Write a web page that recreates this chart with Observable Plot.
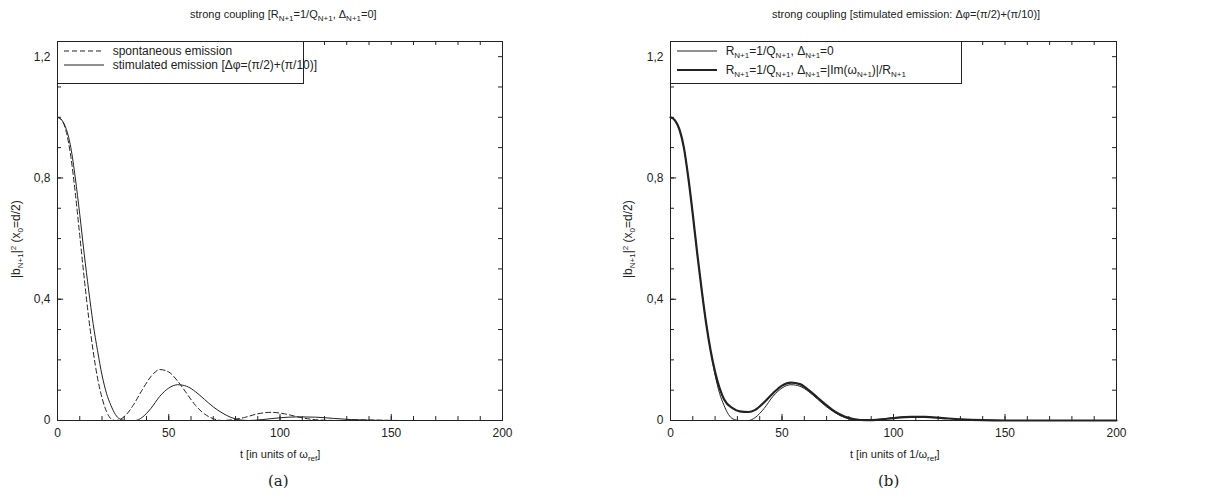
<!DOCTYPE html>
<html><head><meta charset="utf-8">
<script src="https://cdn.jsdelivr.net/npm/d3@7"></script>
<script src="https://cdn.jsdelivr.net/npm/@observablehq/plot@0.6"></script>
<style>
body{margin:0;background:#fff;font-family:"Liberation Sans",Arial,sans-serif;color:#222}
#wrap{position:relative;width:1224px;height:503px}
.abs{position:absolute;white-space:nowrap}
.title{font-size:11px;top:8px}
.xl{font-size:11px;top:448px}
.cap{font-family:"DejaVu Serif",serif;font-size:15px;top:472px}
.yl{font-size:12px;transform:rotate(-90deg);transform-origin:left top}
.leg{border:1px solid #222;background:#fff;font-size:12px;padding:2px 6px;line-height:14px}
sub{font-size:8px;vertical-align:-3px}sup{font-size:8px;vertical-align:4px}
svg text{font-family:"Liberation Sans",Arial,sans-serif}
</style></head><body><div id="wrap"></div>
<script>
const tA = [0,2,4,6,8,10,12,14,16,18,20,22,24,26,28,31,35,38,42,46,50,54,58,62,66,70,74,78,82,86,92,100,108,116,124,132,140,150,200];
const stim = [1,0.99,0.96,0.9,0.8,0.68,0.55,0.43,0.32,0.23,0.15,0.09,0.05,0.02,0.005,0,0,0.01,0.04,0.08,0.107,0.118,0.113,0.095,0.07,0.045,0.025,0.01,0.002,0,0.003,0.009,0.012,0.011,0.007,0.003,0.001,0,0];
const tS = [0,2,4,6,8,10,12,14,16,18,20,22,24,26,28,31,34,38,42,46,50,54,58,62,66,70,74,78,84,90,96,102,108,114,120,126,135,145,155,200];
const spont = [1,0.99,0.95,0.87,0.75,0.61,0.47,0.34,0.23,0.14,0.075,0.03,0.006,0,0.003,0.02,0.05,0.1,0.145,0.168,0.16,0.13,0.09,0.05,0.022,0.006,0,0.002,0.01,0.022,0.027,0.022,0.012,0.004,0.001,0,0.002,0.001,0,0];
const tB = [0,2,4,6,8,10,12,14,16,18,20,24,28,31,35,38,42,46,50,54,58,62,66,70,74,78,82,88,94,100,108,114,122,130,140,150,200];
const detuned = [1,0.99,0.96,0.9,0.8,0.68,0.55,0.43,0.32,0.23,0.16,0.07,0.04,0.03,0.028,0.035,0.06,0.09,0.115,0.125,0.12,0.1,0.075,0.05,0.028,0.013,0.005,0.001,0.003,0.008,0.012,0.012,0.008,0.004,0.001,0,0];
const xTicks=[0,50,100,150,200], yTicks=[0,0.4,0.8,1.2];
const xMinor=d3.range(0,201,10), yMinor=d3.range(0,1.25,0.1).map(v=>+v.toFixed(2));

function panel(lines, ml, mr){
  const k={stroke:"#222",strokeWidth:1};
  return Plot.plot({
    width:612,height:503,marginLeft:ml,marginRight:mr,marginTop:41,marginBottom:83,
    x:{domain:[0,200]}, y:{domain:[0,1.25]},
    style:{fontSize:"12px",color:"#222"},
    marks:[
      Plot.ruleX(xMinor,{x:d=>d,y1:0,y2:0.013,...k}),
      Plot.ruleX(xMinor,{x:d=>d,y1:1.25,y2:1.237,...k}),
      Plot.ruleX(xTicks,{x:d=>d,y1:0,y2:0.02,...k}),
      Plot.ruleY(yMinor,{y:d=>d,x1:0,x2:1.8,...k}),
      Plot.ruleY(yMinor,{y:d=>d,x1:200,x2:198.2,...k}),
      Plot.ruleY(yTicks,{y:d=>d,x1:0,x2:2.8,...k}),
      Plot.frame({stroke:"#222"}),
      Plot.axisX({ticks:xTicks,tickSize:0,tickPadding:8,anchor:"bottom",label:null,fontSize:12}),
      Plot.axisY({ticks:yTicks,tickSize:0,tickPadding:7,anchor:"left",label:null,tickFormat:d=>d===0?"0":d3.format(".1f")(d).replace(".",","),fontSize:12}),
      ...lines
    ]});
}
const wrap=document.getElementById("wrap");
const L=panel([
  Plot.line(tS.map((t,i)=>({t,v:spont[i]})),{x:"t",y:"v",stroke:"#222",strokeWidth:1,strokeDasharray:"5,3",curve:"monotone-x"}),
  Plot.line(tA.map((t,i)=>({t,v:stim[i]})),{x:"t",y:"v",stroke:"#222",strokeWidth:1,curve:"monotone-x"})
],57,110);
const R=panel([
  Plot.line(tA.map((t,i)=>({t,v:stim[i]})),{x:"t",y:"v",stroke:"#222",strokeWidth:1,curve:"monotone-x"}),
  Plot.line(tB.map((t,i)=>({t,v:detuned[i]})),{x:"t",y:"v",stroke:"#222",strokeWidth:2.2,curve:"monotone-x"})
],58,108);
L.style.position="absolute";L.style.left="0px";L.style.top="0px";
R.style.position="absolute";R.style.left="612px";R.style.top="0px";
wrap.append(L,R);
wrap.insertAdjacentHTML("beforeend",`
<div class="abs title" style="left:190px">strong coupling [R<sub>N+1</sub>=1/Q<sub>N+1</sub>, Δ<sub>N+1</sub>=0]</div>
<div class="abs title" style="left:772px">strong coupling [stimulated emission: Δφ=(π/2)+(π/10)]</div>
<div class="abs xl" style="left:240px">t [in units of ω<sub>ref</sub>]</div>
<div class="abs xl" style="left:850px">t [in units of 1/ω<sub>ref</sub>]</div>
<div class="abs cap" style="left:268px">(a)</div>
<div class="abs cap" style="left:878px">(b)</div>
<div class="abs yl" style="left:9px;top:278px">|b<sub>N+1</sub>|<sup>2</sup> (x<sub>0</sub>=d/2)</div>
<div class="abs yl" style="left:621px;top:278px">|b<sub>N+1</sub>|<sup>2</sup> (x<sub>0</sub>=d/2)</div>
<div class="abs leg" style="left:57px;top:41px;width:233px;height:37px">
<div><svg width="42" height="8"><line x1="0" y1="4" x2="40" y2="4" stroke="#222" stroke-dasharray="5,3"/></svg>&nbsp; spontaneous emission</div>
<div><svg width="42" height="8"><line x1="0" y1="4" x2="40" y2="4" stroke="#222"/></svg>&nbsp; stimulated emission [Δφ=(π/2)+(π/10)]</div></div>
<div class="abs leg" style="left:670px;top:41px;width:278px;height:37px">
<div><svg width="42" height="8"><line x1="0" y1="4" x2="40" y2="4" stroke="#222"/></svg>&nbsp; R<sub>N+1</sub>=1/Q<sub>N+1</sub>, Δ<sub>N+1</sub>=0</div>
<div><svg width="42" height="8"><line x1="0" y1="4" x2="40" y2="4" stroke="#222" stroke-width="2.2"/></svg>&nbsp; R<sub>N+1</sub>=1/Q<sub>N+1</sub>, Δ<sub>N+1</sub>=|Im(ω<sub>N+1</sub>)|/R<sub>N+1</sub></div></div>
`);
</script></body></html>
